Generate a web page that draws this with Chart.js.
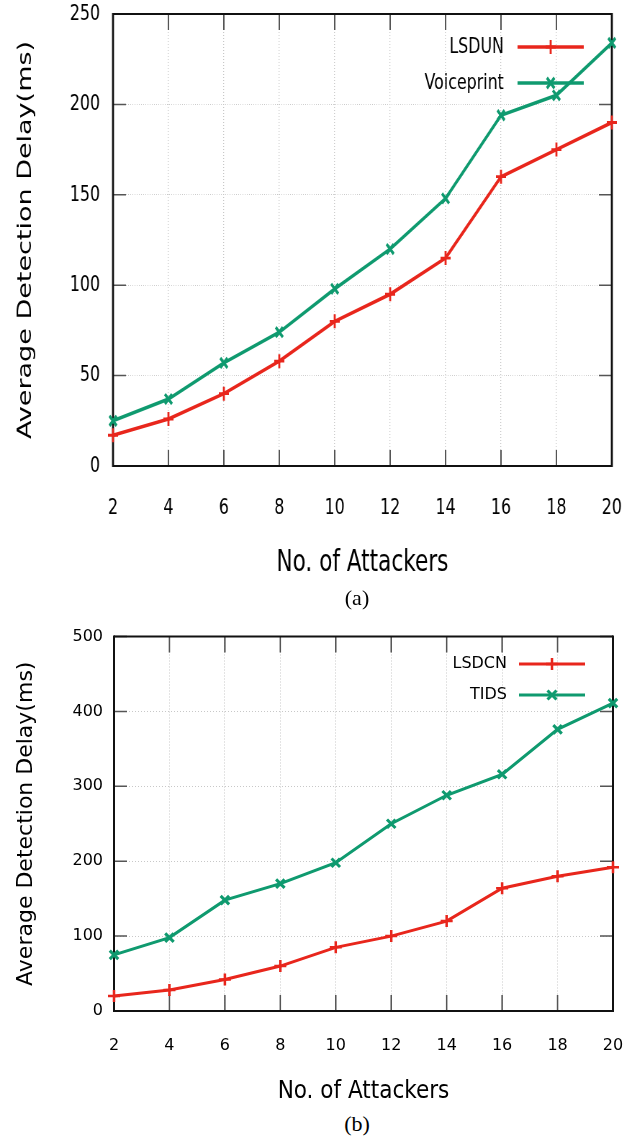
<!DOCTYPE html>
<html>
<head>
<meta charset="utf-8">
<script src="https://cdn.jsdelivr.net/npm/chart.js@4/dist/chart.umd.min.js"></script>
<style>
  html, body { margin: 0; padding: 0; background: #fff; overflow: hidden; }
  body { width: 637px; height: 1141px; position: relative; }
  canvas { position: absolute; left: 0; }
  /* panel (a) is drawn wide and squeezed, like the scanned figure */
  #chartA { top: 0; transform: scaleX(0.7198); transform-origin: 0 0; }
  #chartB { top: 620px; }
  .caption { position: absolute; left: 357px; transform: translateX(-50%); font: 22px "Liberation Serif", serif; line-height: 24px; color: #000; }
</style>
</head>
<body>
<canvas id="chartA" width="885" height="590"></canvas>
<div class="caption" style="top:586px">(a)</div>
<canvas id="chartB" width="637" height="490"></canvas>
<div class="caption" style="top:1112px">(b)</div>

<script>
/* data */
const attackers = [2, 4, 6, 8, 10, 12, 14, 16, 18, 20];
const lsdunDelay = [17, 26, 40, 58, 80, 95, 115, 160, 175, 190];
const voiceprintDelay = [25, 37, 57, 74, 98, 120, 148, 194, 205, 234];
const lsdcnDelay = [20, 28, 42, 60, 85, 100, 120, 164, 180, 192];
const tidsDelay = [75, 98, 148, 170, 198, 250, 288, 316, 376, 411];
const yTicksA = [0, 50, 100, 150, 200, 250];
const yTicksB = [0, 100, 200, 300, 400, 500];

const RED = "#e8261c";
const GREEN = "#0f9a6f";

/* small marker drawer, used by the legend */
function drawMark(ctx, style, x, y, r){
    ctx.beginPath();
    if (style === "cross"){
        ctx.moveTo(x - r, y); ctx.lineTo(x + r, y);
        ctx.moveTo(x, y - r); ctx.lineTo(x, y + r);
    } else {
        const d = r * 0.75;
        ctx.moveTo(x - d, y - d); ctx.lineTo(x + d, y + d);
        ctx.moveTo(x - d, y + d); ctx.lineTo(x + d, y - d);
    }
    ctx.stroke();
}

/* gnuplot style box: border all round, ticks pointing inward */
const frameTicks = {
    id: "frameTicks",
    beforeDatasetsDraw(chart, args, opts){
        const {ctx, chartArea: a, scales} = chart;
        ctx.save();
        ctx.strokeStyle = "#555";
        ctx.lineWidth = opts.vTickW;
        scales.x.ticks.forEach(t => {
            const px = scales.x.getPixelForValue(t.value);
            ctx.beginPath();
            ctx.moveTo(px, a.bottom); ctx.lineTo(px, a.bottom - opts.xLen);
            ctx.moveTo(px, a.top); ctx.lineTo(px, a.top + opts.xLen);
            ctx.stroke();
        });
        ctx.lineWidth = 1.5;
        scales.y.ticks.forEach(t => {
            const py = scales.y.getPixelForValue(t.value);
            ctx.beginPath();
            ctx.moveTo(a.left, py); ctx.lineTo(a.left + opts.yLen, py);
            ctx.moveTo(a.right, py); ctx.lineTo(a.right - opts.yLen, py);
            ctx.stroke();
        });
        ctx.strokeStyle = "#111";
        ctx.lineWidth = 2;
        ctx.beginPath();
        ctx.moveTo(a.left, a.top); ctx.lineTo(a.right, a.top);
        ctx.moveTo(a.left, a.bottom); ctx.lineTo(a.right, a.bottom);
        ctx.stroke();
        ctx.lineWidth = opts.vBorderW;
        ctx.beginPath();
        ctx.moveTo(a.left, a.top - 1); ctx.lineTo(a.left, a.bottom + 1);
        ctx.moveTo(a.right, a.top - 1); ctx.lineTo(a.right, a.bottom + 1);
        ctx.stroke();
        ctx.restore();
    }
};

/* legend inside the plot: text on the left, line sample on the right */
const insideLegend = {
    id: "insideLegend",
    afterDatasetsDraw(chart, args, opts){
        const {ctx, chartArea: a} = chart;
        ctx.save();
        ctx.font = opts.font;
        ctx.textAlign = "right";
        ctx.textBaseline = "middle";
        chart.data.datasets.forEach((ds, i) => {
            const y = a.top + opts.rows[i];
            ctx.fillStyle = "#000";
            ctx.fillText(ds.label, a.right - opts.textRight, y);
            ctx.strokeStyle = ds.borderColor;
            ctx.lineWidth = ds.borderWidth;
            ctx.beginPath();
            ctx.moveTo(a.right - opts.lineStart, y);
            ctx.lineTo(a.right - opts.lineEnd, y);
            ctx.stroke();
            ctx.lineWidth = ds.pointBorderWidth;
            drawMark(ctx, ds.pointStyle, a.right - (opts.lineStart + opts.lineEnd) / 2, y, ds.pointRadius);
        });
        ctx.restore();
    }
};

function series(label, values, color, style, w, r, bw){
    return {
        label: label,
        data: attackers.map((a, i) => ({x: a, y: values[i]})),
        borderColor: color,
        backgroundColor: color,
        borderWidth: w,
        pointStyle: style,
        pointRadius: r,
        pointBorderWidth: bw,
        pointBorderColor: color,
        tension: 0,
        clip: false
    };
}

/* drop the extra room chart.js keeps for edge labels, layout padding decides */
function noEdgePad(s){
    s.paddingTop = 0; s.paddingBottom = 0;
    s.paddingLeft = 0; s.paddingRight = 0;
}

function makeChart(id, datasets, cfg){
    const ctx = document.getElementById(id).getContext("2d");
    return new Chart(ctx, {
        type: "line",
        data: { datasets: datasets },
        plugins: [frameTicks, insideLegend],
        options: {
            responsive: false,
            animation: false,
            events: [],
            layout: { padding: { top: cfg.top, right: cfg.right, left: 0, bottom: 0 } },
            plugins: {
                legend: { display: false },
                tooltip: { enabled: false },
                frameTicks: cfg.frame,
                insideLegend: cfg.legend
            },
            scales: {
                x: {
                    type: "linear",
                    min: 2,
                    max: 20,
                    afterBuildTicks: s => { s.ticks = attackers.map(v => ({value: v})); },
                    afterFit: s => { s.height = cfg.xHeight; noEdgePad(s); },
                    grid: { color: "#c8c8c8", drawTicks: false, lineWidth: cfg.vGridW },
                    border: { display: false, dash: [1, 2] },
                    ticks: {
                        autoSkip: false, maxRotation: 0, padding: cfg.xTickPad,
                        color: "#000", font: cfg.tickFont
                    },
                    title: {
                        display: true, text: "No. of Attackers", color: "#000",
                        font: cfg.xTitleFont, padding: { top: 0, bottom: cfg.xTitlePad }
                    }
                },
                y: {
                    min: cfg.yTicks[0],
                    max: cfg.yTicks[cfg.yTicks.length - 1],
                    afterBuildTicks: s => { s.ticks = cfg.yTicks.map(v => ({value: v})); },
                    afterFit: s => { s.width = cfg.yWidth; noEdgePad(s); },
                    grid: { color: "#c8c8c8", drawTicks: false, lineWidth: 1 },
                    border: { display: false, dash: [1, 2] },
                    ticks: { padding: cfg.yTickPad, color: "#000", font: cfg.tickFont },
                    title: {
                        display: true, text: "Average Detection Delay(ms)", color: "#000",
                        font: cfg.yTitleFont, padding: { top: cfg.yTitlePad, bottom: 0 }
                    }
                }
            }
        }
    });
}

/* (a) LSDUN vs Voiceprint, canvas units are page px / 0.7198 across */
makeChart("chartA", [
    series("LSDUN", lsdunDelay, RED, "cross", 3.6, 7, 2.8),
    series("Voiceprint", voiceprintDelay, GREEN, "crossRot", 3.6, 7, 3.4)
], {
    top: 14, right: 35, xHeight: 124, yWidth: 157,
    yTicks: yTicksA,
    vGridW: 1.3,
    tickFont: { family: "'DejaVu Sans', sans-serif", size: 22 },
    xTickPad: 29, yTickPad: 18,
    xTitleFont: { family: "'DejaVu Sans', sans-serif", size: 30 },
    xTitlePad: 9,
    yTitleFont: { family: "'DejaVu Sans', sans-serif", size: 27 },
    yTitlePad: 20,
    frame: { xLen: 16, yLen: 18, vTickW: 2, vBorderW: 2.8 },
    legend: { font: "22px 'DejaVu Sans', sans-serif", rows: [33, 69], textRight: 150, lineStart: 131, lineEnd: 39 }
});

/* (b) LSDCN vs TIDS */
makeChart("chartB", [
    series("LSDCN", lsdcnDelay, RED, "cross", 3, 6, 2.5),
    series("TIDS", tidsDelay, GREEN, "crossRot", 3, 6, 3)
], {
    top: 16.5, right: 24, xHeight: 99, yWidth: 114,
    yTicks: yTicksB,
    vGridW: 1,
    tickFont: { family: "'DejaVu Sans', sans-serif", size: 16 },
    xTickPad: 25, yTickPad: 11,
    xTitleFont: { family: "'DejaVu Sans Condensed', sans-serif", size: 24 },
    xTitlePad: 4,
    yTitleFont: { family: "'DejaVu Sans', sans-serif", size: 22 },
    yTitlePad: 13,
    frame: { xLen: 16, yLen: 13, vTickW: 1.5, vBorderW: 2 },
    legend: { font: "16px 'DejaVu Sans', sans-serif", rows: [27.5, 58.5], textRight: 106, lineStart: 94, lineEnd: 28 }
});
</script>
</body>
</html>
